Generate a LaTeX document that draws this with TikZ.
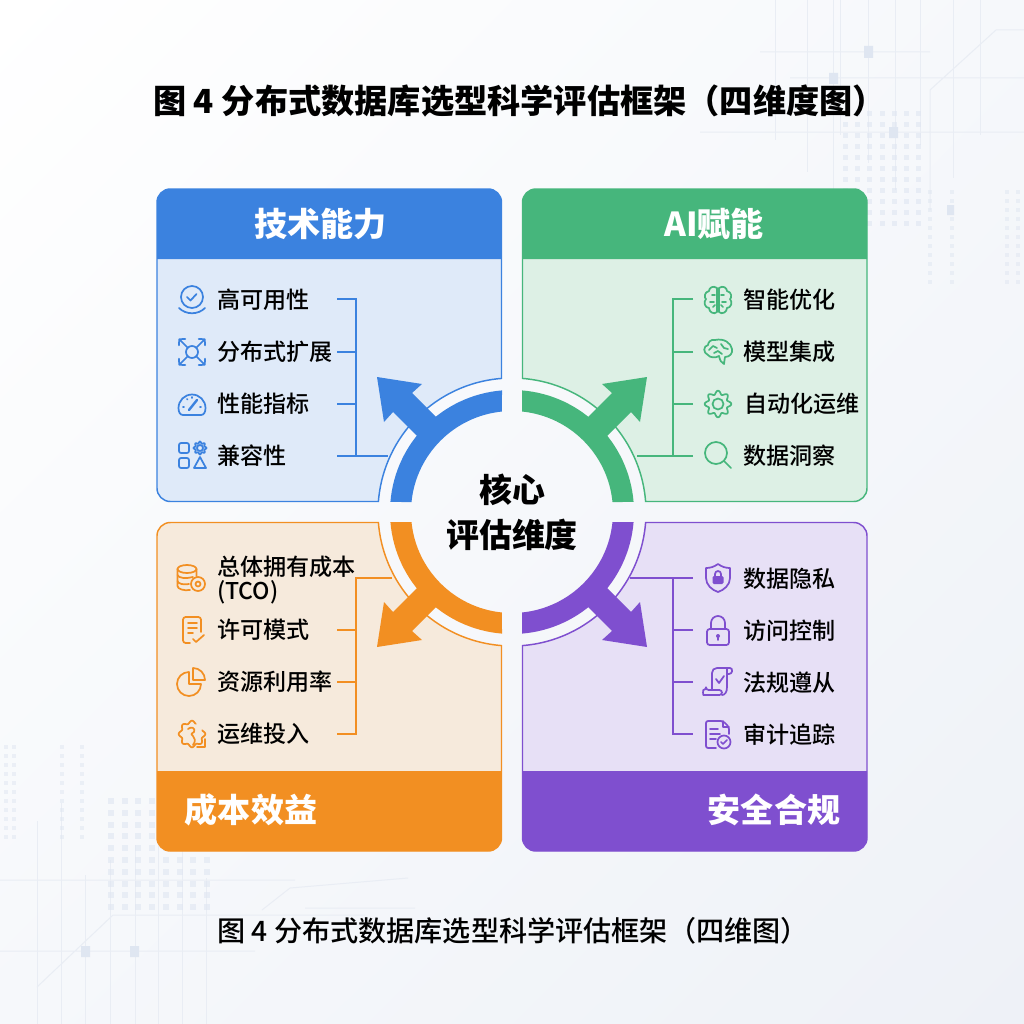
\documentclass[tikz,border=0pt]{standalone}
\usepackage{fontspec}
\usetikzlibrary{shadings}
\setmainfont{Noto Sans CJK SC}
\newfontfamily\itemfont{Noto Sans CJK SC Medium}

\definecolor{bluedeep}{HTML}{3B82DF}
\definecolor{bluelight}{HTML}{DFEAF9}
\definecolor{greendeep}{HTML}{46B67C}
\definecolor{greenlight}{HTML}{DDF0E5}
\definecolor{orangedeep}{HTML}{F28F22}
\definecolor{orangelight}{HTML}{F6EADC}
\definecolor{purpledeep}{HTML}{7F4FCF}
\definecolor{purplelight}{HTML}{E7E0F6}
\definecolor{bgline}{HTML}{E9EDF4}
\definecolor{bgdot}{HTML}{DFE6F1}
\definecolor{bgcorner}{HTML}{EEF1F7}
\definecolor{bgside}{HTML}{F6F8FB}

\tikzset{every picture/.style={line width=0.75pt}}
\tikzset{
  panelline/.style={line width=1.1pt},
  linkline/.style={line width=1.1pt},
  iconline/.style={line width=1.3pt,line cap=round,line join=round},
  itemtext/.style={anchor=west,inner sep=0.75pt,font=\itemfont\fontsize{17.3}{19}\selectfont},
  headtext/.style={inner sep=0.75pt,text=white,font=\fontsize{24.8}{28}\selectfont\bfseries},
  coretext/.style={inner sep=0.75pt,font=\fontsize{24.7}{28}\selectfont\bfseries}
}

\begin{document}
\begin{tikzpicture}[x=0.75pt,y=0.75pt,yscale=-1,xscale=1]
\useasboundingbox (0,0) rectangle (1024,1024);

%Shape: Background
\shade[upper left=white,upper right=bgside,lower left=bgside,lower right=bgcorner] (0,0) rectangle (1024,1024);
%Shape: Background lines
\draw[bgline] (760,52) -- (930,52) (790,78) -- (1024,78) (700,132) -- (1024,132) (930,90) -- (996,30) -- (1024,30) (930,90) -- (930,210);
\foreach \lx in {775,807,833,840,868,895,920,953,980} \draw[bgline] (\lx,0) -- (\lx,{135+mod(\lx,70)});
\draw[bgline] (0,880) -- (295,880) (0,951) -- (255,951) (37,987) -- (113,915) -- (365,915) (262,910) -- (290,888) -- (408,878) (305,908) -- (415,908);
\foreach \lx in {37,61,85,110,135,158,182,206} \draw[bgline] (\lx,{800+mod(\lx*3,90)}) -- (\lx,1024);
%Shape: Background squares
\fill[bgdot] (864,46) rectangle (873,58) (829,73) rectangle (838,84) (889,127) rectangle (898,138) (947,205) rectangle (954,215) (81,946) rectangle (90,957) (130,946) rectangle (139,957);
%Shape: Background dots
\foreach \dx in {0,...,6} \foreach \dy in {0,...,10} \fill[bgdot,opacity=0.6] ({843+12.2*\dx},{111+11*\dy}) rectangle +(5,5);
\foreach \dx in {0,...,7} \foreach \dy in {0,...,9} \fill[bgdot,opacity=0.6] ({108+13.7*\dx},{798+11.8*\dy}) rectangle +(6,6);
\foreach \dx in {928,950,1005,1016} \foreach \dy in {0,...,10} \fill[bgdot,opacity=0.5] (\dx,{190+9*\dy}) rectangle +(4,4);
\foreach \dx in {4,12,60,80} \foreach \dy in {0,...,10} \fill[bgdot,opacity=0.5] (\dx,{745+9*\dy}) rectangle +(4,4);

%Shape: Panel bodies
\draw[panelline,draw=bluedeep,fill=bluelight] (501.5,378.4) [rounded corners=10pt] -- (501.5,189) -- (157,189) -- (157,501.5) -- (200,501.5) [sharp corners] -- (378.4,501.5) arc (184.5:265.5:134) -- cycle;
\draw[panelline,draw=greendeep,fill=greenlight] (522.5,378.4) [rounded corners=10pt] -- (522.5,189) -- (867,189) -- (867,501.5) -- (800,501.5) [sharp corners] -- (645.6,501.5) arc (-4.5:-85.5:134) -- cycle;
\draw[panelline,draw=orangedeep,fill=orangelight] (501.5,645.6) [rounded corners=10pt] -- (501.5,851) -- (157,851) -- (157,522.5) -- (200,522.5) [sharp corners] -- (378.4,522.5) arc (175.5:94.5:134) -- cycle;
\draw[panelline,draw=purpledeep,fill=purplelight] (522.5,645.6) [rounded corners=10pt] -- (522.5,851) -- (867,851) -- (867,522.5) -- (800,522.5) [sharp corners] -- (645.6,522.5) arc (4.5:85.5:134) -- cycle;

%Shape: Panel headers
\fill[bluedeep] (157,259) [rounded corners=10pt] -- (157,189) -- (501.5,189) -- (501.5,230) [sharp corners] -- (501.5,259) -- cycle;
\fill[greendeep] (522.5,259) [rounded corners=10pt] -- (522.5,189) -- (867,189) -- (867,230) [sharp corners] -- (867,259) -- cycle;
\fill[orangedeep] (157,771) [rounded corners=10pt] -- (157,851) -- (501.5,851) -- (501.5,800) [sharp corners] -- (501.5,771) -- cycle;
\fill[purpledeep] (522.5,771) [rounded corners=10pt] -- (522.5,851) -- (867,851) -- (867,800) [sharp corners] -- (867,771) -- cycle;

%Shape: Link ends
\coordinate (techA) at (337,299);
\coordinate (techB) at (337,352);
\coordinate (techC) at (337,404);
\coordinate (techD) at (337,456);
\coordinate (techTop) at (356,299);
\coordinate (techBot) at (356,456);
\coordinate (techRing) at (388,456);
\coordinate (aiA) at (693,299);
\coordinate (aiB) at (693,352);
\coordinate (aiC) at (693,404);
\coordinate (aiD) at (693,456);
\coordinate (aiTop) at (673,299);
\coordinate (aiBot) at (673,456);
\coordinate (aiRing) at (637,456);
\coordinate (costB) at (337,630);
\coordinate (costC) at (337,682);
\coordinate (costD) at (337,734);
\coordinate (costTop) at (356,578);
\coordinate (costBot) at (356,734);
\coordinate (costRing) at (392,578);
\coordinate (safeA) at (693,578);
\coordinate (safeB) at (693,630);
\coordinate (safeC) at (693,682);
\coordinate (safeD) at (693,734);
\coordinate (safeTop) at (673,578);
\coordinate (safeBot) at (673,734);
\coordinate (safeRing) at (630,578);

%Shape: Links
\draw[linkline,bluedeep] (techA) -- (techTop) -- (techBot) (techD) -- (techRing) (techB) -- (techB -| techTop) (techC) -- (techC -| techTop);
\draw[linkline,greendeep] (aiA) -- (aiTop) -- (aiBot) (aiD) -- (aiRing) (aiB) -- (aiB -| aiTop) (aiC) -- (aiC -| aiTop);
\draw[linkline,orangedeep] (costRing) -- (costTop) -- (costBot) -- (costD) (costB) -- (costB -| costTop) (costC) -- (costC -| costTop);
\draw[linkline,purpledeep] (safeRing) -- (safeA) (safeTop) -- (safeBot) -- (safeD) (safeB) -- (safeB -| safeTop) (safeC) -- (safeC -| safeTop);

%Shape: Ring arcs
\fill[bluedeep] (502,390.4) arc (265.3:184.7:122) -- (411.5,502) arc (185.7:264.3:101) -- cycle;
\fill[greendeep] (522,390.4) arc (-85.3:-4.7:122) -- (612.5,502) arc (-5.7:-84.3:101) -- cycle;
\fill[orangedeep] (502,633.6) arc (94.7:175.3:122) -- (411.5,522) arc (174.3:95.7:101) -- cycle;
\fill[purpledeep] (522,633.6) arc (85.3:4.7:122) -- (612.5,522) arc (5.7:84.3:101) -- cycle;

%Shape: Arrows
\fill[bluedeep] (377,377) -- (422,384) -- (412,393) -- (444,425) -- (425,444) -- (393,412) -- (384,422) -- cycle;
\fill[greendeep] (647,377) -- (602,384) -- (612,393) -- (580,425) -- (599,444) -- (631,412) -- (640,422) -- cycle;
\fill[orangedeep] (377,647) -- (422,640) -- (412,631) -- (444,599) -- (425,580) -- (393,612) -- (384,602) -- cycle;
\fill[purpledeep] (647,647) -- (602,640) -- (612,631) -- (580,599) -- (599,580) -- (631,612) -- (640,602) -- cycle;

%Shape: Icons of the blue panel
\begin{scope}[iconline,draw=bluedeep]
\begin{scope}[shift={(192,300)}]
\draw (0,-3) circle (11);
\draw (-5,-3) -- (-1.5,0.5) -- (4.5,-6);
\draw (-13,8) .. controls (-6,15) and (6,15) .. (13,8);
\end{scope}
\begin{scope}[shift={(192,352)}]
\draw (0,0) circle (6);
\foreach \a in {45,135,225,315} \draw[rotate=\a] (6,0) -- (18,0) (14,-4.5) -- (18,0) -- (14,4.5);
\end{scope}
\begin{scope}[shift={(192,404)}]
\draw (-9,11) .. controls (-12,11) and (-13.5,8) .. (-13.5,4) arc (180:360:13.5) .. controls (13.5,8) and (12,11) .. (9,11) -- cycle;
\draw[line width=1.8pt] (-3,6) -- (5,-4);
\draw (-9,3) -- (-8,3) (-5,-5) -- (-4.5,-4.5) (9,3) -- (8,3) (0,-7) -- (0,-6);
\end{scope}
\begin{scope}[shift={(192,456)}]
\draw[rounded corners=1.5pt] (-13,-13) rectangle (-3,-3) (-13,2) rectangle (-3,12);
\draw (8,-8) circle (3);
\draw[variable=\t,domain=0:360,samples=65,smooth] plot ([shift={(8,-8)}]\t:{5.5+1*cos(8*\t)}) -- cycle;
\draw (8,1) -- (14,12) -- (2,12) -- cycle;
\end{scope}
\end{scope}

%Shape: Icons of the green panel
\begin{scope}[iconline,draw=greendeep]
\begin{scope}[shift={(718,300)}]
\foreach \s in {1,-1} \draw[xscale=\s] (-1,-12) .. controls (-5,-15) and (-9,-12) .. (-9,-9) .. controls (-14,-8) and (-14,-2) .. (-12,-1) .. controls (-15,2) and (-13,8) .. (-9,8) .. controls (-9,12) and (-4,15) .. (-1,12) -- cycle;
\draw (-6,-5) -- (-3,-5) (-8,2) -- (-4,2) (-5,7) -- (-3,5) (6,-5) -- (3,-5) (8,2) -- (4,2) (5,7) -- (3,5);
\end{scope}
\begin{scope}[shift={(718,352)}]
\draw (-3,-12) .. controls (-8,-13) and (-10,-9) .. (-10,-7) .. controls (-15,-6) and (-15,1) .. (-10,3) .. controls (-8,6) and (-2,6) .. (1,4) .. controls (2,8) and (3,11) .. (6,12) .. controls (7,9) and (6,7) .. (7,5) .. controls (12,5) and (15,1) .. (14,-3) .. controls (13,-9) and (6,-14) .. (-3,-12) -- cycle;
\draw (-9,-2) -- (-5,-6) -- (-1,-4) (-4,1) -- (0,-1) -- (4,2) (3,-8) -- (6,-4) -- (10,-3);
\end{scope}
\begin{scope}[shift={(718,404)}]
\draw (0,0) circle (5.5);
\draw[variable=\t,domain=0:360,samples=97,smooth] plot (\t:{11.5+1.8*cos(8*\t)}) -- cycle;
\end{scope}
\begin{scope}[shift={(718,456)}]
\draw (-2,-3) circle (11);
\draw (6,5) -- (13,12);
\end{scope}
\end{scope}

%Shape: Icons of the orange panel
\begin{scope}[iconline,draw=orangedeep]
\begin{scope}[shift={(192,578)}]
\draw (-5,-9) ellipse (9.5 and 4);
\draw (-14.5,-9) -- (-14.5,8) .. controls (-14.5,11) and (-8,13) .. (-2,12) (4.5,-9) -- (4.5,-2);
\draw (-14.5,-3) .. controls (-14,0) and (-6,1) .. (1,-1) (-14.5,3) .. controls (-14,6) and (-8,7) .. (-3,6);
\draw (6,6) circle (7) (6,6) circle (2.5);
\end{scope}
\begin{scope}[shift={(192,630)}]
\draw[rounded corners=2pt] (-2,13) -- (-9,13) -- (-9,-13) -- (9,-13) -- (9,2);
\draw (-4,-7) -- (5,-7) (-4,-2) -- (5,-2) (-4,3) -- (1,3);
\draw (1,9) -- (4,12) -- (12,5);
\end{scope}
\begin{scope}[shift={(192,682)}]
\draw (-3,-10) arc (270:90:12) arc (90:0:12) -- (-3,2) -- cycle;
\draw (1,-14) arc (270:360:12) -- (1,-2) -- cycle;
\end{scope}
\begin{scope}[shift={(192,734)}]
\draw[variable=\t,domain=-20:290,samples=90,smooth] plot (\t:{12+1.3*cos(8*\t)});
\draw (-4,-5) .. controls (-1,-8) and (4,-6) .. (2,-2) .. controls (0,0) and (-2,-1) .. (1,2) .. controls (3,4) and (4,7) .. (1,11);
\draw (5,13) -- (13,13) -- (13,5);
\end{scope}
\end{scope}

%Shape: Icons of the purple panel
\begin{scope}[iconline,draw=purpledeep]
\begin{scope}[shift={(718,578)}]
\draw (0,-14) .. controls (-4,-11) and (-8,-10) .. (-12,-10) -- (-12,0) .. controls (-12,7) and (-6,12) .. (0,14) .. controls (6,12) and (12,7) .. (12,0) -- (12,-10) .. controls (8,-10) and (4,-11) .. (0,-14) -- cycle;
\fill[purpledeep,rounded corners=1pt] (-5.5,-2) rectangle (5.5,6);
\draw (-3,-2) -- (-3,-4) arc (180:360:3) -- (3,-2);
\end{scope}
\begin{scope}[shift={(718,630)}]
\draw[rounded corners=2pt] (-11,-1) rectangle (11,15);
\draw (-7,-1) -- (-7,-7) arc (180:360:7) -- (7,-1);
\fill[purpledeep] (0,6) circle (2);
\draw (0,7) -- (0,10);
\end{scope}
\begin{scope}[shift={(718,682)}]
\draw (-6,8) -- (-6,-9) .. controls (-6,-12) and (-4,-14) .. (-1,-14) -- (12,-14) .. controls (15,-14) and (15,-8) .. (11,-8) -- (9,-8) -- (9,-14) (9,-8) -- (9,5) .. controls (9,10) and (7,13) .. (4,13);
\draw[rounded corners=2pt] (-12,8) -- (4,8) -- (4,13) -- (-12,13) .. controls (-15,13) and (-15,8) .. (-12,8) -- cycle;
\draw (-2,-3) -- (1,1) -- (6,-6);
\end{scope}
\begin{scope}[shift={(718,734)}]
\draw[rounded corners=1.5pt] (-2,14) -- (-12,14) -- (-12,-13) -- (5,-13) -- (11,-7) -- (11,0);
\draw (5,-13) -- (5,-7) -- (11,-7);
\draw (-8,-5) -- (0,-5) (-8,0) -- (2,0) (-8,5) -- (-2,5);
\draw[fill=purplelight] (6,8) circle (6.5);
\draw (3,8) -- (5,10) -- (9,6);
\end{scope}
\end{scope}

% Text Node
\draw (519.5,101) node (maintitle) [inner sep=0.75pt,font=\fontsize{24.9}{28}\selectfont\bfseries] {图 4 分布式数据库选型科学评估框架（四维度图）};
% Text Node
\draw (513,931) node (subtitle) [inner sep=0.75pt,font=\itemfont\fontsize{21.1}{24}\selectfont] {图 4 分布式数据库选型科学评估框架（四维图）};
% Text Node
\draw (320.5,224) node (techhead) [headtext] {技术能力};
% Text Node
\draw (714,224) node (aihead) [headtext] {AI赋能};
% Text Node
\draw (251,810) node (costhead) [headtext] {成本效益};
% Text Node
\draw (774,810) node (safehead) [headtext] {安全合规};
% Text Node
\draw (512,490) node (coretop) [coretext] {核心};
% Text Node
\draw (512,535) node (corebot) [coretext] {评估维度};

% Text Node
\draw (215.5,300) node (gaokeyong) [itemtext] {高可用性};
\draw (215.5,352) node (kuozhan) [itemtext] {分布式扩展};
\draw (215.5,404) node (xingneng) [itemtext] {性能指标};
\draw (215.5,456) node (jianrong) [itemtext] {兼容性};
% Text Node
\draw (741.5,300) node (youhua) [itemtext] {智能优化};
\draw (741.5,352) node (jicheng) [itemtext] {模型集成};
\draw (743,404) node (yunwei) [itemtext] {自动化运维};
\draw (741.5,456) node (dongcha) [itemtext] {数据洞察};
% Text Node
\draw (215.5,567) node (zongti) [itemtext] {总体拥有成本};
\draw (215.5,592) node (tco) [itemtext] {(TCO)};
\draw (215.5,630) node (xuke) [itemtext] {许可模式};
\draw (215.5,682) node (ziyuan) [itemtext] {资源利用率};
\draw (215.5,734) node (touru) [itemtext] {运维投入};
% Text Node
\draw (741.5,579) node (yinsi) [itemtext] {数据隐私};
\draw (741.5,631) node (fangwen) [itemtext] {访问控制};
\draw (741.5,683) node (fagui) [itemtext] {法规遵从};
\draw (741.5,735) node (shenji) [itemtext] {审计追踪};

\end{tikzpicture}
\end{document}
